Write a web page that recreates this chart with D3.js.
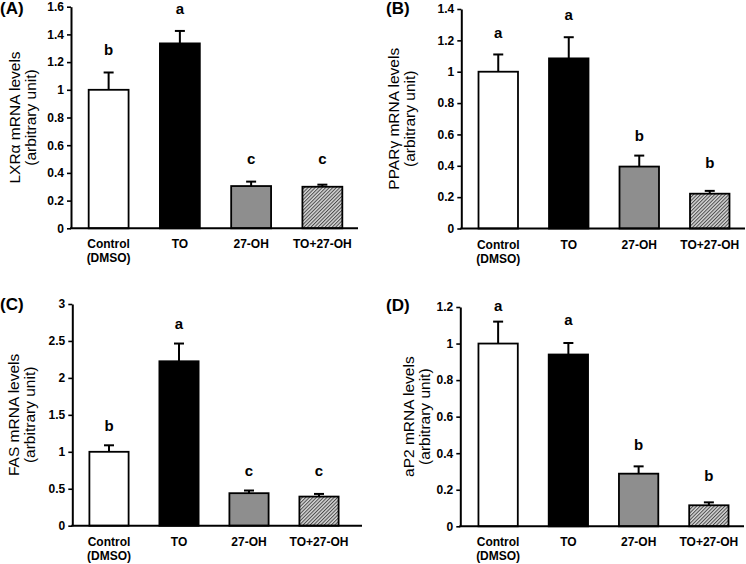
<!DOCTYPE html>
<html>
<head>
<meta charset="utf-8">
<script src="https://cdn.jsdelivr.net/npm/d3@7/dist/d3.min.js"></script>
<style>
  html, body { margin: 0; padding: 0; background: #fff; }
  svg { display: block; font-family: "Liberation Sans", Arial, Helvetica, sans-serif; }
</style>
</head>
<body>
<script>
// ---------------- data ----------------
const categories = ["Control (DMSO)", "TO", "27-OH", "TO+27-OH"];
const categoryLines = [["Control", "(DMSO)"], ["TO"], ["27-OH"], ["TO+27-OH"]];
const barFills = ["#ffffff", "#000000", "#8e8e8e", "url(#hatch)"];

const lxrMean = [1.00, 1.335, 0.305, 0.30];
const lxrErr = [0.125, 0.09, 0.032, 0.015];
const lxrLetters = ["b", "a", "c", "c"];
const lxrLetterAt = [1.25, 1.55, 0.464, 0.464];
const lxrTicks = [0, 0.2, 0.4, 0.6, 0.8, 1, 1.2, 1.4, 1.6];

const pparMean = [1.00, 1.085, 0.395, 0.222];
const pparErr = [0.11, 0.135, 0.07, 0.018];
const pparLetters = ["a", "a", "b", "b"];
const pparLetterAt = [1.216, 1.329, 0.56, 0.387];
const pparTicks = [0, 0.2, 0.4, 0.6, 0.8, 1, 1.2, 1.4];

const fasMean = [1.00, 2.225, 0.44, 0.394];
const fasErr = [0.088, 0.24, 0.036, 0.036];
const fasLetters = ["b", "a", "c", "c"];
const fasLetterAt = [1.28, 2.66, 0.674, 0.674];
const fasTicks = [0, 0.5, 1, 1.5, 2, 2.5, 3];

const ap2Mean = [1.00, 0.94, 0.288, 0.115];
const ap2Err = [0.12, 0.063, 0.04, 0.016];
const ap2Letters = ["a", "a", "b", "b"];
const ap2LetterAt = [1.18, 1.10, 0.415, 0.246];
const ap2Ticks = [0, 0.2, 0.4, 0.6, 0.8, 1, 1.2];

// ---------------- layout ----------------
const panels = [
  { label: "(A)", title: ["LXR\u03b1 mRNA levels", "(arbitrary unit)"], mean: lxrMean, err: lxrErr,
    letters: lxrLetters, letterAt: lxrLetterAt, ticks: lxrTicks,
    axisX: 71, top: 6.7, zero: 228.3, xEnd: 358, band: [73, 358],
    labelPos: [0, 14], titleX: [20, 35.5] },
  { label: "(B)", title: ["PPAR\u03b3 mRNA levels", "(arbitrary unit)"], mean: pparMean, err: pparErr,
    letters: pparLetters, letterAt: pparLetterAt, ticks: pparTicks,
    axisX: 461.3, top: 9, zero: 228.5, xEnd: 745, band: [463, 745],
    labelPos: [386, 14], titleX: [399, 414.5] },
  { label: "(C)", title: ["FAS mRNA levels", "(arbitrary unit)"], mean: fasMean, err: fasErr,
    letters: fasLetters, letterAt: fasLetterAt, ticks: fasTicks,
    axisX: 72.3, top: 304, zero: 525.7, xEnd: 362, band: [74, 354],
    labelPos: [0, 310], titleX: [19, 34.5] },
  { label: "(D)", title: ["aP2 mRNA levels", "(arbitrary unit)"], mean: ap2Mean, err: ap2Err,
    letters: ap2Letters, letterAt: ap2LetterAt, ticks: ap2Ticks,
    axisX: 460.3, top: 307, zero: 526.3, xEnd: 744, band: [463, 744],
    labelPos: [386, 311], titleX: [414, 429.5] }
];

const svg = d3.select("body").append("svg").attr("width", 746).attr("height", 564);

const defs = svg.append("defs");
const pat = defs.append("pattern").attr("id", "hatch")
  .attr("width", 2.5).attr("height", 2.5)
  .attr("patternUnits", "userSpaceOnUse")
  .attr("patternTransform", "rotate(45)");
pat.append("rect").attr("width", 2.5).attr("height", 2.5).attr("fill", "#d6d6d6");
pat.append("line").attr("x1", 0.5).attr("y1", 0).attr("x2", 0.5).attr("y2", 2.5)
  .attr("stroke", "#4a4a4a").attr("stroke-width", 1);

const fmt = d => String(+d.toFixed(1));

panels.forEach(p => {
  const g = svg.append("g");
  const yMax = p.ticks[p.ticks.length - 1];
  const y = d3.scaleLinear().domain([0, yMax]).range([p.zero, p.top]);
  const x = d3.scaleBand().domain(categories).range(p.band).paddingInner(0.44).paddingOuter(0.22);
  const data = categories.map((c, i) => ({
    c, i, mean: p.mean[i], err: p.err[i], letter: p.letters[i], letterAt: p.letterAt[i]
  }));

  // bars
  g.selectAll("rect.bar").data(data).join("rect")
    .attr("class", "bar")
    .attr("x", d => x(d.c))
    .attr("width", x.bandwidth())
    .attr("y", d => y(d.mean))
    .attr("height", d => y(0) - y(d.mean))
    .attr("fill", d => barFills[d.i])
    .attr("stroke", "#000")
    .attr("stroke-width", 1.8);

  // error bars (upper only)
  const cx = d => x(d.c) + x.bandwidth() / 2;
  g.selectAll("line.err").data(data).join("line")
    .attr("class", "err")
    .attr("x1", cx).attr("x2", cx)
    .attr("y1", d => y(d.mean)).attr("y2", d => y(d.mean + d.err))
    .attr("stroke", "#000").attr("stroke-width", 2);
  g.selectAll("line.cap").data(data).join("line")
    .attr("class", "cap")
    .attr("x1", d => cx(d) - 5).attr("x2", d => cx(d) + 5)
    .attr("y1", d => y(d.mean + d.err)).attr("y2", d => y(d.mean + d.err))
    .attr("stroke", "#000").attr("stroke-width", 2);

  // significance letters
  g.selectAll("text.sig").data(data).join("text")
    .attr("class", "sig")
    .attr("x", cx)
    .attr("y", d => y(d.letterAt))
    .attr("text-anchor", "middle")
    .attr("font-size", 15).attr("font-weight", "bold")
    .text(d => d.letter);

  // y axis
  const yAxis = d3.axisLeft(y).tickValues(p.ticks).tickFormat(fmt)
    .tickSize(4).tickSizeOuter(0).tickPadding(3);
  const ya = g.append("g").attr("transform", `translate(${p.axisX},0)`).call(yAxis);
  ya.select(".domain").attr("stroke", "#000").attr("stroke-width", 2);
  ya.selectAll(".tick line").attr("stroke", "#000").attr("stroke-width", 1.6);
  ya.selectAll(".tick text").attr("font-size", 12).attr("font-weight", "bold")
    .attr("fill", "#000").attr("font-family", null);

  // x axis
  const xAxis = d3.axisBottom(x).tickSize(0).tickFormat(() => "");
  const xa = g.append("g").attr("transform", `translate(0,${p.zero})`).call(xAxis);
  xa.select(".domain").remove();
  xa.append("line")
    .attr("x1", p.axisX - 1).attr("x2", p.xEnd)
    .attr("y1", 0).attr("y2", 0)
    .attr("stroke", "#000").attr("stroke-width", 2);
  xa.selectAll(".tick text").remove();
  xa.selectAll(".tick").append("text")
    .attr("text-anchor", "middle")
    .attr("font-size", 12).attr("font-weight", "bold").attr("fill", "#000")
    .each(function (d) {
      const lines = categoryLines[categories.indexOf(d)];
      d3.select(this).selectAll("tspan").data(lines).join("tspan")
        .attr("x", 0).attr("y", (l, j) => 20 + j * 14).text(l => l);
    });

  // y title
  const midY = (p.top + p.zero) / 2;
  p.title.forEach((t, j) => {
    g.append("text")
      .attr("transform", `translate(${p.titleX[j]},${midY}) rotate(-90)`)
      .attr("text-anchor", "middle")
      .attr("font-size", 15.5).attr("fill", "#000")
      .text(t);
  });

  // panel label
  g.append("text")
    .attr("x", p.labelPos[0]).attr("y", p.labelPos[1])
    .attr("font-size", 17).attr("font-weight", "bold").attr("fill", "#000")
    .text(p.label);
});
</script>
</body>
</html>
